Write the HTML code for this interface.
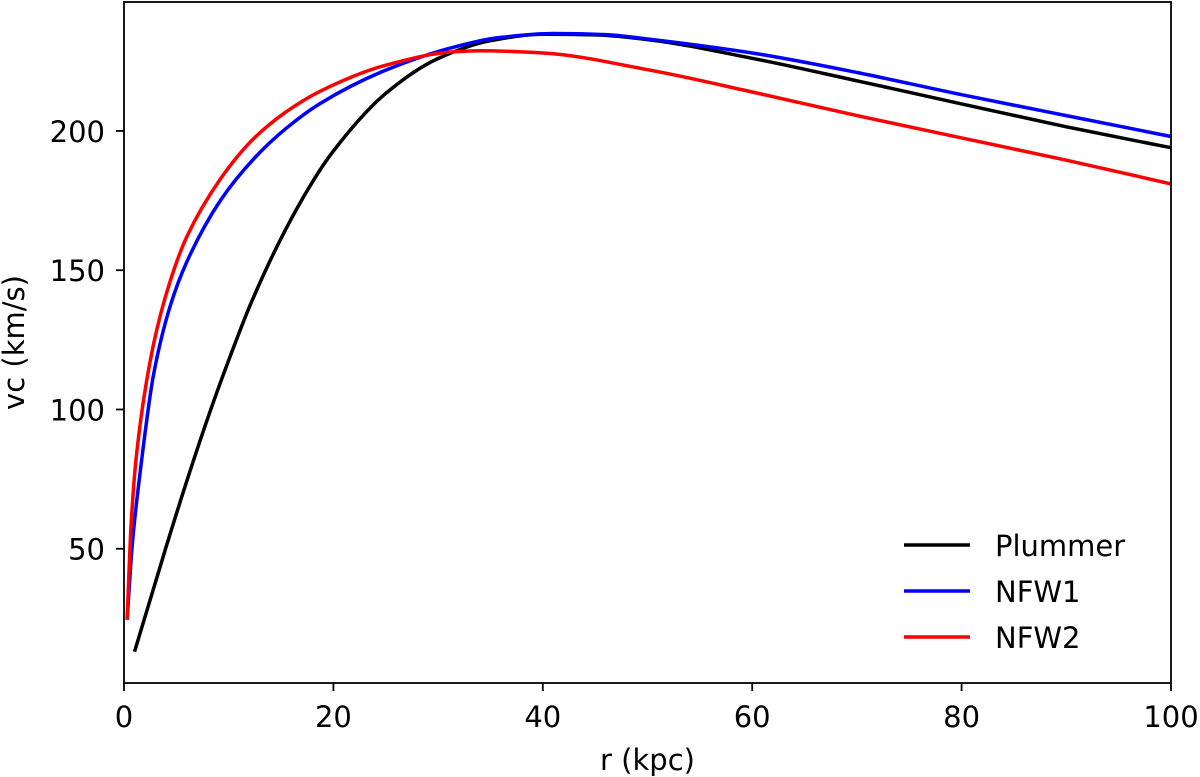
<!DOCTYPE html>
<html><head><meta charset="utf-8"><style>
body{margin:0;background:#fff}
svg{display:block;font-family:"DejaVu Sans","Liberation Sans",sans-serif}
</style></head><body>
<svg id="chart" width="1200" height="777" viewBox="0 0 1200 777" xmlns="http://www.w3.org/2000/svg">
<g id="plot"></g>
</svg>
<script>
const xTicks=[0,20,40,60,80,100];
const yTicks=[50,100,150,200];
const plummerR=[1,2,4,6,8,10,12,15,18,20,25,30,35,40,45,50,60,70,80,90,100];
const plummerV=[13,25.4,50.4,74.3,96.9,117.7,137,161.4,181.7,192.8,213.5,226,232.4,234.7,234.5,232.8,226.1,218,209.7,201.5,194];
const nfw1R=[0.3,0.8,1.53,2.8,4.4,6.0,9.2,12.4,15.5,18.7,25.1,31.4,36,41,46,50,60,70,80,90,100];
const nfw1V=[24.5,52,77,112,137,153,175,190,201,209.8,222,230,233.6,235,234.6,233,228,221,213,205.5,198];
const nfw2R=[0.3,0.7,1.2,2.8,4.4,6.0,9.2,12.4,15.5,18.7,25.1,31.4,34,40,50,60,70,80,90,100];
const nfw2V=[24.5,60,84,123,146,162,182.7,197.3,206.9,214.2,223.7,228.4,228.8,228,222,214,205.5,197.5,189.5,181];

const L=124,R=1171,T=2,B=683;
const xMin=0,xMax=100,yMin=1.8,yMax=246.3;
const sx=v=>L+(v-xMin)/(xMax-xMin)*(R-L);
const sy=v=>B-(v-yMin)/(yMax-yMin)*(B-T);
const NS='http://www.w3.org/2000/svg';
const g=document.getElementById('plot');
function mk(t,a,p){const e=document.createElementNS(NS,t);for(const k in a)e.setAttribute(k,a[k]);(p||g).appendChild(e);return e;}

function smoothPath(pts){
  const n=pts.length;
  const d=[],m=[];
  for(let i=0;i<n-1;i++)d.push((pts[i+1][1]-pts[i][1])/(pts[i+1][0]-pts[i][0]));
  m[0]=d[0];m[n-1]=d[n-2];
  for(let i=1;i<n-1;i++){
    if(d[i-1]*d[i]<=0){m[i]=0;continue;}
    const h0=pts[i][0]-pts[i-1][0],h1=pts[i+1][0]-pts[i][0];
    const w1=2*h1+h0,w2=h1+2*h0;
    m[i]=(w1+w2)/(w1/d[i-1]+w2/d[i]);
  }
  let p='M'+pts[0][0].toFixed(1)+','+pts[0][1].toFixed(1);
  for(let i=0;i<n-1;i++){
    const h=(pts[i+1][0]-pts[i][0])/3;
    p+=' C'+(pts[i][0]+h).toFixed(1)+','+(pts[i][1]+m[i]*h).toFixed(1)+' '+(pts[i+1][0]-h).toFixed(1)+','+(pts[i+1][1]-m[i+1]*h).toFixed(1)+' '+pts[i+1][0].toFixed(1)+','+pts[i+1][1].toFixed(1);
  }
  return p;
}
function series(rs,vs,color,name){
  const pts=rs.map((r,i)=>[sx(r),sy(vs[i])]);
  const p=mk('path',{d:smoothPath(pts),fill:'none',stroke:color,'stroke-width':3.5,'stroke-linejoin':'round'});
  
  
}
series(plummerR,plummerV,'#000','plummer-line');
series(nfw1R,nfw1V,'#0000ff','nfw1-line');
series(nfw2R,nfw2V,'#ff0000','nfw2-line');

const frame=mk('rect',{x:L,y:T,width:R-L,height:B-T,fill:'none',stroke:'#000','stroke-width':1.8});



xTicks.forEach(v=>{
  const x=sx(v);
  const t=mk('line',{x1:x,x2:x,y1:B,y2:B+8,stroke:'#000','stroke-width':1.8});
  
  
  const tx=mk('text',{x:x,y:727,'text-anchor':'middle','font-size':29});
  tx.textContent=v;
  
  
});
yTicks.forEach(v=>{
  const y=sy(v);
  const t=mk('line',{x1:L-8,x2:L,y1:y,y2:y,stroke:'#000','stroke-width':1.8});
  
  
  const tx=mk('text',{x:L-19,y:y+11,'text-anchor':'end','font-size':29});
  tx.textContent=v;
  
  
});
const xl=mk('text',{x:(L+R)/2,y:770,'text-anchor':'middle','font-size':29});
xl.textContent='r (kpc)';


const yl=mk('text',{x:0,y:0,'text-anchor':'middle','font-size':29,transform:'translate(24,'+((T+B)/2)+') rotate(-90)'});
yl.textContent='vc (km/s)';



const legendNames=['Plummer','NFW1','NFW2'];
const legendColors=['#000','#0000ff','#ff0000'];
legendNames.forEach((n,i)=>{
  const y=545+i*46;
  const ln=mk('line',{x1:904,x2:970,y1:y,y2:y,stroke:legendColors[i],'stroke-width':3.5});
  
  
  const tx=mk('text',{x:995,y:y+11,'font-size':29});
  tx.textContent=n;
  
  
});
</script>
</body></html>
